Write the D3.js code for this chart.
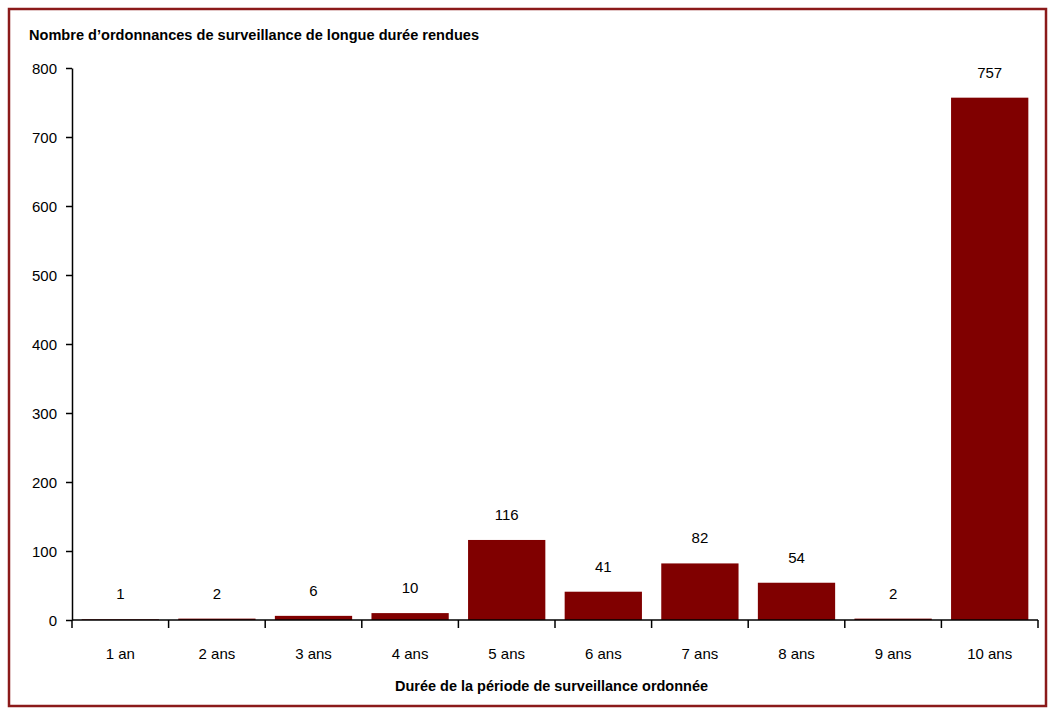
<!DOCTYPE html>
<html>
<head>
    <meta charset="utf-8">
    <title>Ordonnances de surveillance de longue durée</title>
    <script src="https://cdn.jsdelivr.net/npm/d3@7"></script>
    <style>
        body { margin: 0; background: #fff; }
        text { font-family: "Liberation Sans", Arial, sans-serif; fill: #000; }
    </style>
</head>
<body>
    <div id="chart"></div>
    <script type="text/javascript">
        var categories = ["1 an", "2 ans", "3 ans", "4 ans", "5 ans", "6 ans", "7 ans", "8 ans", "9 ans", "10 ans"];
        var values = [1, 2, 6, 10, 116, 41, 82, 54, 2, 757];
        var yTicks = [0, 100, 200, 300, 400, 500, 600, 700, 800];

        var width = 1055;
        var height = 714;
        var margin = {left: 72, right: 17, top: 68, bottom: 94};

        var svg = d3.select("#chart").append("svg")
            .attr('width', width)
            .attr('height', height);

        // outer frame
        svg.append("rect")
            .attr('x', 9).attr('y', 9)
            .attr('width', 1037).attr('height', 697)
            .attr('fill', 'none')
            .attr('stroke', '#8b1a1a')
            .attr('stroke-width', 2.5);

        var xScale = d3.scaleBand()
            .domain(categories)
            .range([margin.left, width - margin.right])
            .paddingInner(0.2)
            .paddingOuter(0.1);

        var yScale = d3.scaleLinear()
            .domain([0, 800])
            .range([height - margin.bottom, margin.top]);

        var y0 = yScale(0);

        // bars
        svg.append("g").selectAll("rect")
            .data(values)
            .enter().append("rect")
                .attr('x', function(d, i) { return xScale(categories[i]); })
                .attr('y', function(d) { return yScale(d); })
                .attr('width', xScale.bandwidth())
                .attr('height', function(d) { return y0 - yScale(d); })
                .style('fill', '#800000');

        // value labels
        svg.append("g").selectAll("text")
            .data(values)
            .enter().append("text")
                .attr('x', function(d, i) { return xScale(categories[i]) + xScale.bandwidth() / 2; })
                .attr('y', function(d) { return yScale(d) - 20; })
                .attr('text-anchor', 'middle')
                .style('font-size', '15px')
                .text(function(d) { return d; });

        // y axis
        var yAxis = d3.axisLeft(yScale)
            .tickValues(yTicks)
            .tickSize(6)
            .tickPadding(9)
            .tickSizeOuter(0);
        var gy = svg.append("g")
            .attr('transform', 'translate(' + margin.left + ',0)')
            .call(yAxis);
        gy.selectAll("text").style('font-size', '15px').attr('dy', '0.35em');
        gy.selectAll("line, path").attr('stroke', '#000').attr('stroke-width', 1.5);

        // x axis: baseline plus ticks at category boundaries
        var gx = svg.append("g");
        var x0 = margin.left, x1 = width - margin.right;
        gx.append("line")
            .attr('x1', x0).attr('x2', x1)
            .attr('y1', y0).attr('y2', y0)
            .attr('stroke', '#000').attr('stroke-width', 1.5);
        var bounds = d3.range(categories.length + 1).map(function(i) { return x0 + i * (x1 - x0) / categories.length; });
        gx.selectAll("line.tick")
            .data(bounds)
            .enter().append("line")
                .attr('class', 'tick')
                .attr('x1', function(d) { return d; }).attr('x2', function(d) { return d; })
                .attr('y1', y0).attr('y2', y0 + 8)
                .attr('stroke', '#000').attr('stroke-width', 1.5);
        gx.selectAll("text")
            .data(categories)
            .enter().append("text")
                .attr('x', function(d) { return xScale(d) + xScale.bandwidth() / 2; })
                .attr('y', y0 + 39)
                .attr('text-anchor', 'middle')
                .style('font-size', '15px')
                .text(function(d) { return d; });

        // titles
        svg.append("text")
            .attr('x', 29).attr('y', 40)
            .attr('textLength', 450)
            .attr('lengthAdjust', 'spacingAndGlyphs')
            .style('font-size', '15px')
            .style('font-weight', 'bold')
            .text("Nombre d’ordonnances de surveillance de longue durée rendues");

        svg.append("text")
            .attr('x', 395).attr('y', 691)
            .attr('textLength', 313)
            .attr('lengthAdjust', 'spacingAndGlyphs')
            .style('font-size', '15px')
            .style('font-weight', 'bold')
            .text("Durée de la période de surveillance ordonnée");
    </script>
</body>
</html>
